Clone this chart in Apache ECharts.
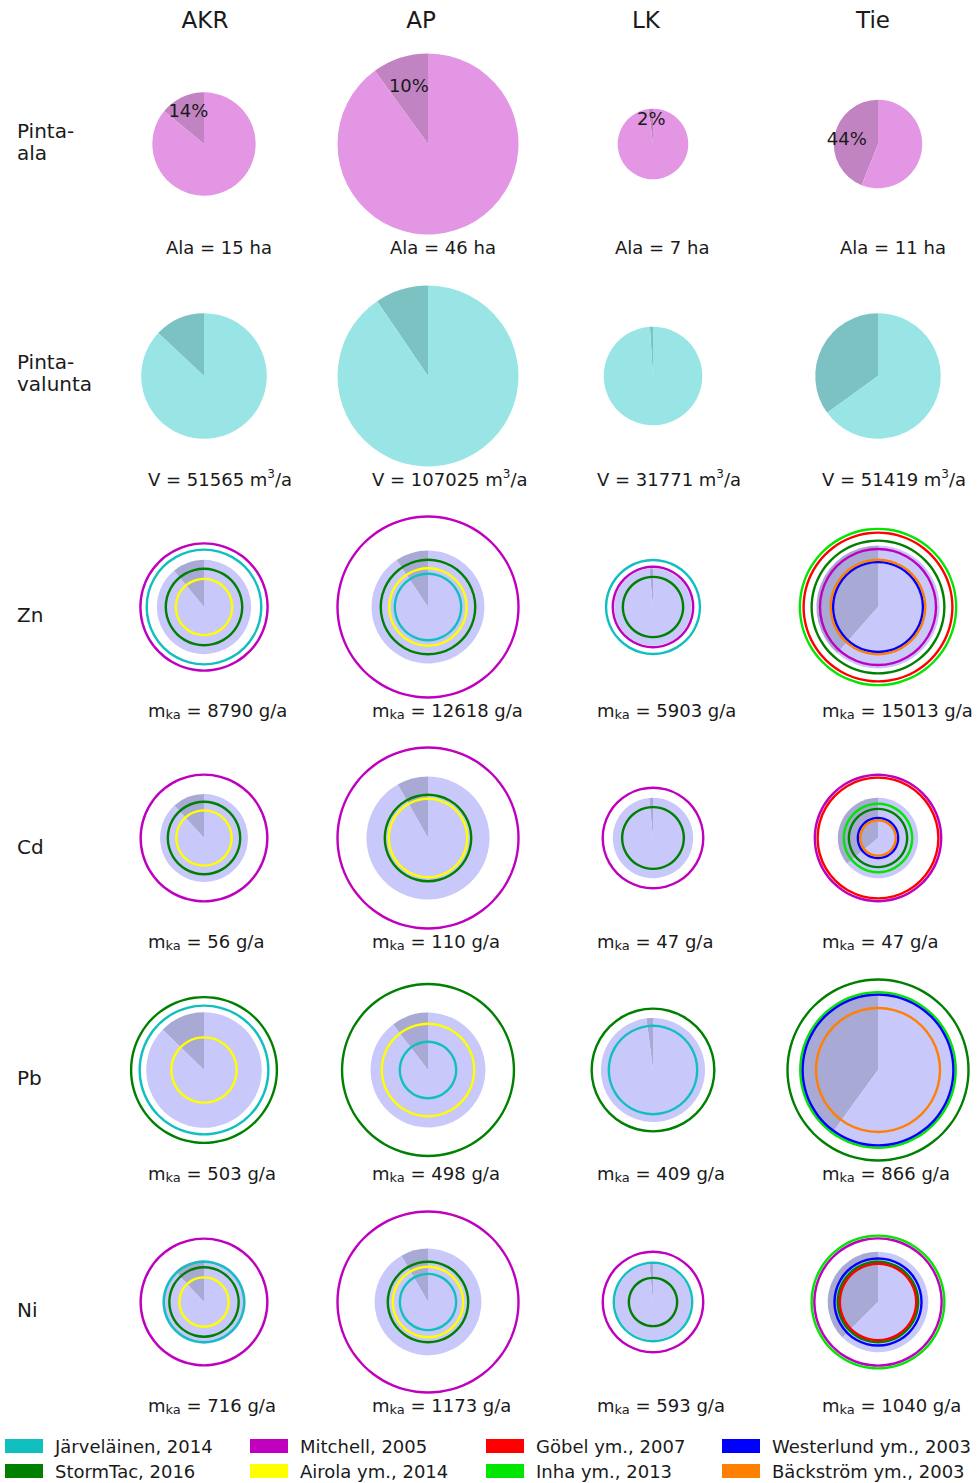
<!DOCTYPE html>
<html>
<head>
<meta charset="utf-8">
<script src="https://cdn.jsdelivr.net/npm/echarts@6/dist/echarts.min.js"></script>
<style>
  html, body { margin: 0; background: #fff; }
  #chart { width: 979px; height: 1483px; }
</style>
</head>
<body>
<div id="chart"></div>
<script>
// kohteet ja rivit
const sites = ['AKR', 'AP', 'LK', 'Tie'];
const rowTitles = ['Pinta-\nala', 'Pinta-\nvalunta', 'Zn', 'Cd', 'Pb', 'Ni'];

// pinta-ala (ha) ja tummemman sektorin osuus (%)
const areaHa = [15, 46, 7, 11];
const areaSharePct = [14, 10, 2, 44];
// pintavalunta (m3/a)
const runoffM3 = [51565, 107025, 31771, 51419];
const runoffSharePct = [13, 9.5, 1, 35];
// kuormat (g/a)
const znLoad = [8790, 12618, 5903, 15013];
const znSharePct = [11, 9.4, 1.5, 38.5];
const cdLoad = [56, 110, 47, 47];
const cdSharePct = [11.8, 8.2, 1.5, 36];
const pbLoad = [503, 498, 409, 866];
const pbSharePct = [12.7, 10.4, 2, 40];
const niLoad = [716, 1173, 593, 1040];
const niSharePct = [12, 8.3, 1.5, 37.5];

// kirjallisuusarviot (g/a), järjestys kuten sources, null = ei arviota
const sources = ['Järveläinen, 2014', 'StormTac, 2016', 'Mitchell, 2005', 'Airola ym., 2014',
  'Göbel ym., 2007', 'Inha ym., 2013', 'Westerlund ym., 2003', 'Bäckström ym., 2003'];
const znLit = [
  [13000, 5780, 16000, 3140, null, null, null, null],
  [4360, 8840, 32400, 5930, null, null, null, null],
  [8720, 3600, 6400, null, null, null, null, null],
  [null, 17420, 13320, null, 21900, 24150, 7990, 8840]
];
const cdLit = [
  [null, 38.1, 116.6, 22.2, null, null, null, null],
  [null, 54.3, 238, 44.7, null, null, null, null],
  [null, 27.7, 73.5, null, null, null, null, null],
  [null, 24.7, 116, null, 106, 34, 11.8, 9.2]
];
const pbLit = [
  [625, 802, null, 161, null, null, null, null],
  [120, 1115, null, 323, null, null, null, null],
  [295, 568, null, null, null, null, null, null],
  [null, 1236, null, null, null, 912, 858, 581]
];
const niLit = [
  [666, 495, 1652, 250, null, null, null, null],
  [326, 666, 3371, 510, null, null, null, null],
  [633, 240, 1040, null, null, null, null, null],
  [null, 666, 1668, null, 601, 1813, 780, null]
];

const sourceColors = ['#12bfbf', '#008000', '#bf00bf', '#ffff00', '#ff0000', '#00e600', '#0000ff', '#ff7f00'];
const FONT = 'DejaVu Sans';
const colX = [204, 428, 653, 878];
const headerX = [205, 421, 646, 873];
const rowY = [144, 376, 607, 838, 1070, 1302];
const R_MAX = 90.5;

const rows = [
  { values: areaHa, share: areaSharePct, lit: null, colors: ['#e396e3', '#c283c2'],
    label: v => 'Ala = ' + v + ' ha', labelDx: -38 },
  { values: runoffM3, share: runoffSharePct, lit: null, colors: ['#99e5e5', '#7cc2c2'],
    label: v => 'V = ' + v + ' m{sup|3}/a', labelDx: -56 },
  { values: znLoad, share: znSharePct, lit: znLit, colors: ['#c8c8fa', '#a9a9d6'],
    label: v => 'm{sub|ka} = ' + v + ' g/a', labelDx: -56 },
  { values: cdLoad, share: cdSharePct, lit: cdLit, colors: ['#c8c8fa', '#a9a9d6'],
    label: v => 'm{sub|ka} = ' + v + ' g/a', labelDx: -56 },
  { values: pbLoad, share: pbSharePct, lit: pbLit, colors: ['#c8c8fa', '#a9a9d6'],
    label: v => 'm{sub|ka} = ' + v + ' g/a', labelDx: -56 },
  { values: niLoad, share: niSharePct, lit: niLit, colors: ['#c8c8fa', '#a9a9d6'],
    label: v => 'm{sub|ka} = ' + v + ' g/a', labelDx: -56 }
];

const series = [];
const ringSeries = [];
const graphic = [];

rows.forEach((row, ri) => {
  // suurin arvo rivillä määrää säteen skaalan (pinta-ala ~ arvo)
  let rowMax = Math.max(...row.values);
  if (row.lit) row.lit.forEach(a => a.forEach(v => { if (v != null) rowMax = Math.max(rowMax, v); }));
  const k = R_MAX / Math.sqrt(rowMax);

  row.values.forEach((v, ci) => {
    const c = [colX[ci], rowY[ri]];
    const r = k * Math.sqrt(v);
    const share = row.share[ci];
    series.push({
      type: 'pie', center: c, radius: [0, r], startAngle: 90, clockwise: false,
      silent: true, label: { show: false }, labelLine: { show: false },
      itemStyle: { borderWidth: 0 },
      data: [
        { name: 'osuus', value: share, itemStyle: { color: row.colors[1] } },
        { name: 'muu', value: 100 - share, itemStyle: { color: row.colors[0] } }
      ]
    });
    if (ri === 0) {
      // prosenttiteksti tummaan sektoriin
      series.push({
        type: 'pie', center: c, radius: [0, r * 1.3], startAngle: 90, clockwise: false,
        silent: true, labelLine: { show: false },
        itemStyle: { color: 'rgba(0,0,0,0)', borderWidth: 0 },
        data: [
          { name: 'osuus', value: share, label: { show: true, position: 'inside', formatter: '{c}%',
            fontSize: 18, fontFamily: FONT, color: '#1a1a1a' } },
          { name: 'muu', value: 100 - share, label: { show: false } }
        ]
      });
    }
    if (row.lit) {
      row.lit[ci].forEach((lv, si) => {
        if (lv == null) return;
        const rr = k * Math.sqrt(lv);
        ringSeries.push({
          type: 'pie', center: c, radius: [rr - 1.2, rr + 1.2],
          silent: true, label: { show: false }, labelLine: { show: false },
          itemStyle: { color: sourceColors[si], borderWidth: 0 },
          data: [{ name: sources[si], value: lv }]
        });
      });
    }
    graphic.push({
      type: 'text', x: colX[ci] + row.labelDx, y: rowY[ri] + 103,
      style: {
        text: row.label(v), fontSize: 18, fontFamily: FONT, fill: '#1a1a1a',
        align: 'left', verticalAlign: 'middle', lineHeight: 22,
        rich: {
          sub: { fontSize: 13, fontFamily: FONT, fill: '#1a1a1a', verticalAlign: 'bottom', lineHeight: 12 },
          sup: { fontSize: 12, fontFamily: FONT, fill: '#1a1a1a', verticalAlign: 'top', lineHeight: 10 }
        }
      }
    });
  });
});

// otsikot
sites.forEach((s, ci) => {
  graphic.push({
    type: 'text', x: headerX[ci], y: 20,
    style: { text: s, fontSize: 23, fontFamily: FONT, fill: '#1a1a1a', align: 'center', verticalAlign: 'middle' }
  });
});
const rowTitleTop = [120, 351, 604, 836, 1067, 1299];
rowTitles.forEach((t, ri) => {
  graphic.push({
    type: 'text', x: 17, y: rowTitleTop[ri],
    style: { text: t, fontSize: 20, fontFamily: FONT, fill: '#1a1a1a', align: 'left', verticalAlign: 'top', lineHeight: 22 }
  });
});

// selite: 4 saraketta x 2 riviä, yksi legend-komponentti per merkintä
const legendOrder = [[0, 1], [2, 3], [4, 5], [6, 7]];
const legendLeft = [5, 250, 486, 722];
const legendTop = [1436, 1461];
const legends = [];
legendOrder.forEach((col, i) => {
  col.forEach((si, j) => {
    legends.push({
      orient: 'horizontal', left: legendLeft[i], top: legendTop[j], padding: 0,
      itemWidth: 38, itemHeight: 14, icon: 'rect', selectedMode: false,
      data: [sources[si]],
      textStyle: { fontSize: 18, fontFamily: FONT, color: '#1a1a1a', lineHeight: 20, padding: [0, 0, 0, 7] }
    });
  });
});

const chart = echarts.init(document.getElementById('chart'), null, { renderer: 'svg' });
chart.setOption({
  animation: false,
  backgroundColor: '#fff',
  legend: legends,
  series: series.concat(ringSeries),
  graphic: graphic
});
</script>
</body>
</html>
